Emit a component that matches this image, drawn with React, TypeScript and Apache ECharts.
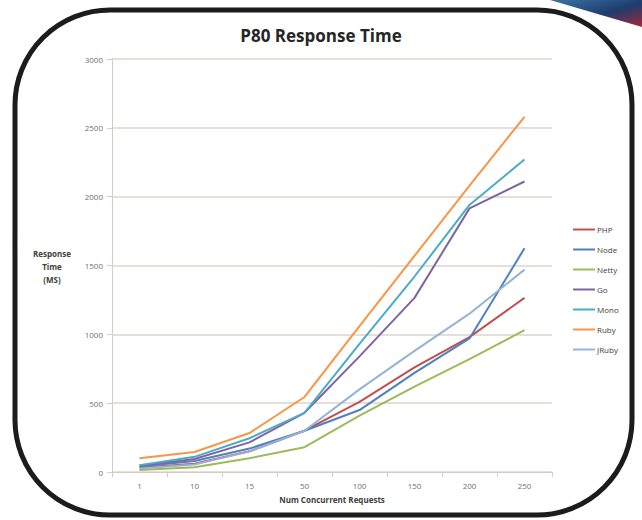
import React, { useEffect, useRef } from "react";
import * as echarts from "echarts";

const categories = ["1", "10", "15", "50", "100", "150", "200", "250"];
const yTicks = [0, 500, 1000, 1500, 2000, 2500, 3000];

const phpValues = [30, 60, 150, 300, 510, 760, 980, 1265];
const nodeValues = [40, 80, 170, 300, 450, 720, 970, 1625];
const nettyValues = [15, 35, 100, 180, 410, 620, 820, 1030];
const goValues = [45, 95, 215, 430, 840, 1265, 1915, 2110];
const monoValues = [50, 110, 245, 430, 930, 1420, 1940, 2270];
const rubyValues = [100, 145, 283, 545, 1060, 1570, 2080, 2580];
const jrubyValues = [25, 55, 150, 300, 600, 880, 1150, 1470];

const seriesNames = ["PHP", "Node", "Netty", "Go", "Mono", "Ruby", "JRuby"];
const seriesColors = ["#C0504D", "#4F81BD", "#9BBB59", "#8064A2", "#4BACC6", "#F79646", "#95B3D7"];
const seriesValues = [phpValues, nodeValues, nettyValues, goValues, monoValues, rubyValues, jrubyValues];

const FONT = "'Open Sans', 'DejaVu Sans', sans-serif";

export default function App() {
  const ref = useRef<HTMLDivElement>(null);

  useEffect(() => {
    if (!ref.current) return;
    const chart = echarts.init(ref.current, null, { renderer: "svg" });
    chart.setOption({
      animation: false,
      backgroundColor: "#ffffff",
      title: {
        text: "P80 Response Time",
        left: 316,
        top: 22,
        textAlign: "center",
        textStyle: { fontFamily: FONT, fontSize: 17, fontWeight: "bold", color: "#262626" },
      },
      grid: { left: 112, right: 90, top: 59, bottom: 48 },
      legend: {
        orient: "vertical",
        left: 568,
        top: 219,
        icon: "rect",
        itemWidth: 22,
        itemHeight: 2,
        itemGap: 9,
        data: seriesNames,
        textStyle: { fontFamily: FONT, fontSize: 8, color: "#404040", lineHeight: 11, padding: [0, 0, 0, -3] },
      },
      xAxis: {
        type: "category",
        data: categories,
        boundaryGap: true,
        name: "Num Concurrent Requests",
        nameLocation: "middle",
        nameGap: 23,
        nameTextStyle: { fontFamily: FONT, fontSize: 8, fontWeight: "bold", color: "#404040" },
        axisLine: { lineStyle: { color: "#d6ccc7", width: 1 } },
        axisTick: { show: true, length: 5, alignWithLabel: false, lineStyle: { color: "#d6ccc7" } },
        axisLabel: { fontFamily: FONT, fontSize: 8, color: "#707070", margin: 9 },
      },
      yAxis: {
        type: "value",
        min: yTicks[0],
        max: yTicks[yTicks.length - 1],
        interval: 500,
        axisLine: { show: true, lineStyle: { color: "#d6ccc7", width: 1 } },
        axisTick: { show: true, length: 5, lineStyle: { color: "#d6ccc7" } },
        axisLabel: {
          fontFamily: FONT,
          fontSize: 8,
          color: "#707070",
          margin: 9,
          formatter: (v: number) => String(v),
        },
        splitLine: { show: true, lineStyle: { color: "#ddd4cf", width: 1.5 } },
      },
      series: seriesNames.map((name, i) => ({
        name,
        type: "line",
        data: seriesValues[i],
        symbol: "none",
        showSymbol: false,
        color: seriesColors[i],
        lineStyle: { color: seriesColors[i], width: 2 },
      })),
      graphic: [
        {
          type: "polygon",
          silent: true,
          shape: { points: [[550, 0], [642, 0], [642, 27]] },
          style: {
            fill: new echarts.graphic.LinearGradient(0, 0, 1, 1, [
              { offset: 0, color: "#3f74a6" },
              { offset: 0.55, color: "#1e3c6e" },
              { offset: 1, color: "#a3263a" },
            ]),
          },
        },
        {
          type: "rect",
          silent: true,
          shape: { x: 15, y: 10, width: 617, height: 505, r: 95 },
          style: { fill: "none", stroke: "#1c1c1c", lineWidth: 5 },
        },
        {
          type: "text",
          silent: true,
          x: 52,
          y: 266,
          style: {
            text: "Response\nTime\n(MS)",
            fontFamily: FONT,
            fontSize: 8,
            fontWeight: "bold",
            fill: "#404040",
            lineHeight: 13,
            textAlign: "center",
            textVerticalAlign: "middle",
          },
        },
      ],
    });
    return () => chart.dispose();
  }, []);

  return (
    <div
      ref={ref}
      style={{ position: "absolute", left: 0, top: 0, width: 642, height: 520 }}
    />
  );
}
